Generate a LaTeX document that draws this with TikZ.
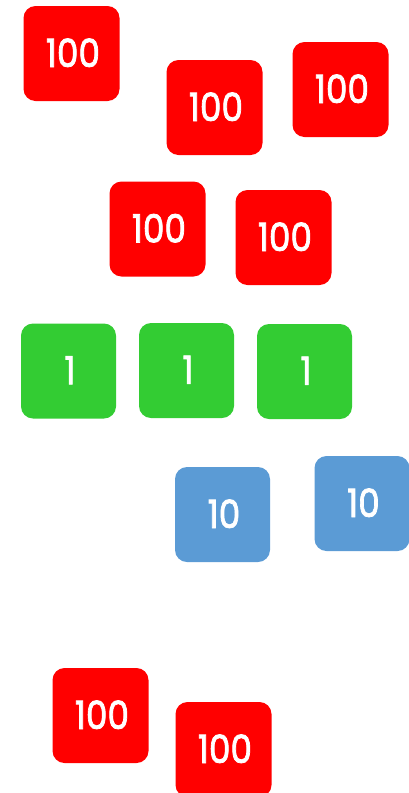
\documentclass[tikz,border=0pt]{standalone}
\usepackage{fontspec}
\setmainfont{Poppins}
\newfontfamily\tilefont{Poppins}[FakeBold=2]
\definecolor{tred}{RGB}{255,0,0}
\definecolor{tgreen}{RGB}{51,204,51}
\definecolor{tblue}{RGB}{91,155,213}
\tikzset{
  tile/.style={rounded corners=12pt, minimum width=96pt, minimum height=95pt, inner sep=0pt,
    text=white, font=\tilefont\fontsize{39}{39}\selectfont, align=center},
  redtile/.style={tile, fill=tred},
  greentile/.style={tile, fill=tgreen, minimum width=95pt},
  bluetile/.style={tile, fill=tblue, minimum width=95pt}
}
\newcommand{\numtxt}[1]{\hspace*{3pt}\raisebox{1.5pt}{\scalebox{0.88}[1]{#1}}}
\begin{document}
\begin{tikzpicture}[x=1pt,y=-1pt]
\useasboundingbox (0,0) rectangle (409,793);
\node[redtile] (r1) at (71.5,53.5) {\numtxt{100}};
\node[redtile] (r2) at (214.5,107.5) {\numtxt{100}};
\node[redtile] (r3) at (340.5,89.5) {\numtxt{100}};
\node[redtile] (r4) at (157.5,229) {\numtxt{100}};
\node[redtile] (r5) at (283.5,237.5) {\numtxt{100}};
\node[greentile] (g1) at (68.5,371) {\numtxt{1}};
\node[greentile] (g2) at (186.5,370.5) {\numtxt{1}};
\node[greentile] (g3) at (304.5,371.5) {\numtxt{1}};
\node[bluetile] (b1) at (222.5,514.5) {\numtxt{10}};
\node[bluetile] (b2) at (362,503.5) {\numtxt{10}};
\node[redtile] (r6) at (100.5,715.5) {\numtxt{100}};
\node[redtile] (r7) at (223.5,749.5) {\numtxt{100}};
\end{tikzpicture}
\end{document}
